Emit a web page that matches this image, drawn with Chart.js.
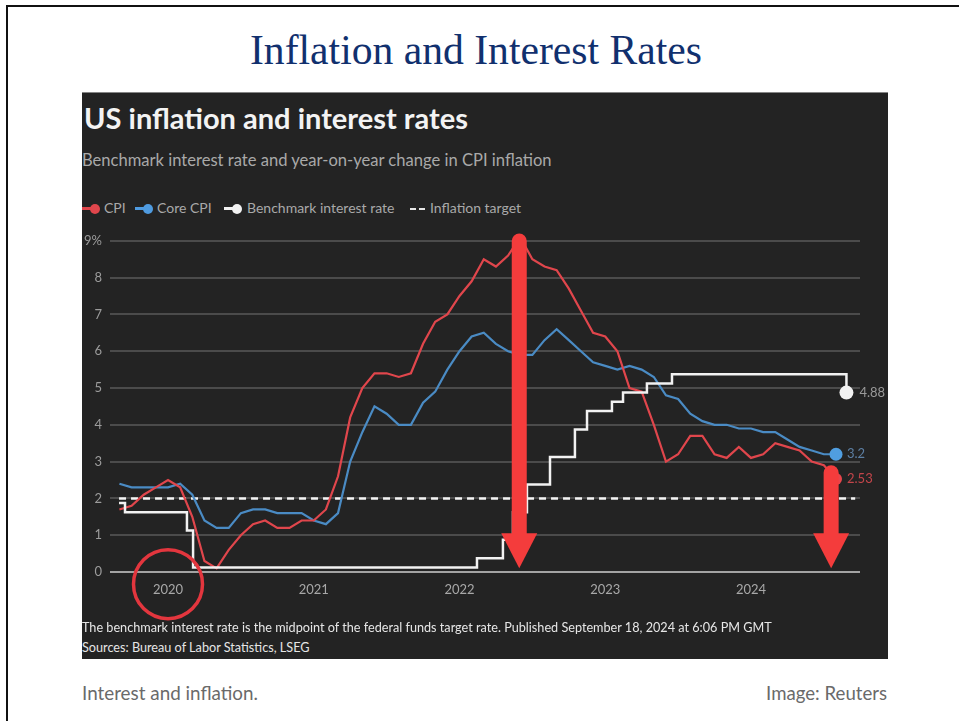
<!DOCTYPE html>
<html>
<head>
<meta charset="utf-8">
<script src="https://cdn.jsdelivr.net/npm/chart.js@4.4.1/dist/chart.umd.min.js"></script>
<style>
  html,body{margin:0;padding:0;}
  body{width:959px;height:721px;overflow:hidden;background:#fff;position:relative;font-family:Lato,"Noto Sans",sans-serif;}
  .t{position:absolute;white-space:nowrap;line-height:1;}
  .leg{position:absolute;white-space:nowrap;line-height:1;font-size:14px;color:#a9a9a9;}
</style>
</head>
<body>
<div style="position:absolute;left:6px;top:5px;width:1000px;height:1000px;border:2px solid #111;"></div>
<div style="position:absolute;left:82px;top:92px;width:806px;height:567px;background:#232323;border-top:1px solid #858585;box-sizing:border-box;"></div>
<canvas id="c" width="806" height="400" style="position:absolute;left:82px;top:225px;"></canvas>

<div id="slideTitle" class="t" style="font-family:'Liberation Serif',serif;font-size:40px;color:#11306e;">Inflation and Interest Rates</div>
<div id="chTitle" class="t" style="font-weight:700;font-size:25px;color:#f3f3f3;">US inflation and interest rates</div>
<div id="chSub" class="t" style="font-size:16px;color:#a9a9a9;">Benchmark interest rate and year-on-year change in CPI inflation</div>

<div id="lg1" class="leg">CPI</div>
<div id="lg2" class="leg">Core CPI</div>
<div id="lg3" class="leg">Benchmark interest rate</div>
<div id="lg4" class="leg">Inflation target</div>
<div id="icons"></div>

<div id="foot1" class="t" style="font-size:12.5px;color:#e6e6e6;">The benchmark interest rate is the midpoint of the federal funds target rate. Published September 18, 2024 at 6:06 PM GMT</div>
<div id="foot2" class="t" style="font-size:12.5px;color:#e6e6e6;">Sources: Bureau of Labor Statistics, LSEG</div>
<div id="capL" class="t" style="font-size:16px;color:#6a6a6a;">Interest and inflation.</div>
<div id="capR" class="t" style="font-size:16px;color:#6a6a6a;">Image: Reuters</div>

<script>
// ---------------- DATA ----------------
const months = [
  "2019-09","2019-10","2019-11","2019-12",
  "2020-01","2020-02","2020-03","2020-04","2020-05","2020-06","2020-07","2020-08","2020-09","2020-10","2020-11","2020-12",
  "2021-01","2021-02","2021-03","2021-04","2021-05","2021-06","2021-07","2021-08","2021-09","2021-10","2021-11","2021-12",
  "2022-01","2022-02","2022-03","2022-04","2022-05","2022-06","2022-07","2022-08","2022-09","2022-10","2022-11","2022-12",
  "2023-01","2023-02","2023-03","2023-04","2023-05","2023-06","2023-07","2023-08","2023-09","2023-10","2023-11","2023-12",
  "2024-01","2024-02","2024-03","2024-04","2024-05","2024-06","2024-07","2024-08"
];
const cpi = [
  1.7,1.8,2.1,2.3,
  2.5,2.3,1.5,0.3,0.1,0.6,1.0,1.3,1.4,1.2,1.2,1.4,
  1.4,1.7,2.6,4.2,5.0,5.4,5.4,5.3,5.4,6.2,6.8,7.0,
  7.5,7.9,8.5,8.3,8.6,9.1,8.5,8.3,8.2,7.7,7.1,6.5,
  6.4,6.0,5.0,4.9,4.0,3.0,3.2,3.7,3.7,3.2,3.1,3.4,
  3.1,3.2,3.5,3.4,3.3,3.0,2.9,2.53
];
const coreCpi = [
  2.4,2.3,2.3,2.3,
  2.3,2.4,2.1,1.4,1.2,1.2,1.6,1.7,1.7,1.6,1.6,1.6,
  1.4,1.3,1.6,3.0,3.8,4.5,4.3,4.0,4.0,4.6,4.9,5.5,
  6.0,6.4,6.5,6.2,6.0,5.9,5.9,6.3,6.6,6.3,6.0,5.7,
  5.6,5.5,5.6,5.5,5.3,4.8,4.7,4.3,4.1,4.0,4.0,3.9,
  3.9,3.8,3.8,3.6,3.4,3.3,3.2,3.2
];
// benchmark rate (midpoint of fed funds target) — change dates as fractional years
const fedDates = [2019.664,2019.705,2020.130,2020.172,2022.120,2022.298,2022.367,2022.463,2022.621,2022.792,2022.875,2023.046,2023.122,2023.286,2023.458,2024.655];
const fedRates = [1.875,1.625,1.125,0.125,0.375,0.875,1.625,2.375,3.125,3.875,4.375,4.625,4.875,5.125,5.375,4.875];
const targetSpan = [2019.664, 2024.715];
const targetRate = 2;
const yearTicks = [2020,2021,2022,2023,2024];
const yTicks = [0,1,2,3,4,5,6,7,8,9];
const endLabels = {cpi:"2.53", core:"3.2", fed:"4.88"};
// annotations (data space)
const arrowX = [2022.41, 2024.55];
const arrowTop = [9.2, 2.9];
const arrowTip = [0.1, 0.1];
const circleCenter = {x:2020.0, y:-0.33};

// ---------------- HELPERS ----------------
const monthX = m => { const [y, mo] = m.split('-').map(Number); return y + (mo - 1) / 12; };
const toPts = vals => vals.map((v, i) => ({x: monthX(months[i]), y: v}));
const lastOnly = (r) => (ctx) => ctx.dataIndex === ctx.dataset.data.length - 1 ? r : 0;

const annot = {
  id: 'annot',
  afterDatasetsDraw(chart) {
    const {ctx, scales: {x, y}} = chart;
    ctx.save();
    // end labels
    ctx.font = '13px Lato, "Noto Sans", sans-serif';
    ctx.textBaseline = 'middle';
    ctx.textAlign = 'left';
    const lbl = (dsIdx, text, color, dx) => {
      const meta = chart.getDatasetMeta(dsIdx);
      const p = meta.data[meta.data.length - 1];
      ctx.fillStyle = color;
      ctx.fillText(text, p.x + dx, p.y);
    };
    lbl(3, endLabels.fed, '#9a9a9a', 13);
    lbl(1, endLabels.core, '#5d7fa3', 11);
    lbl(2, endLabels.cpi, '#c2454a', 11);
    // red arrows
    ctx.fillStyle = '#f43c3c';
    arrowX.forEach((ax, i) => {
      const px = x.getPixelForValue(ax);
      const top = y.getPixelForValue(arrowTop[i]);
      const tip = y.getPixelForValue(arrowTip[i]);
      const shaft = 15, headW = 36, headH = 35;
      const headTop = tip - headH;
      ctx.beginPath();
      ctx.moveTo(px - shaft / 2, headTop + 1);
      ctx.lineTo(px - shaft / 2, top + shaft / 2);
      ctx.arc(px, top + shaft / 2, shaft / 2, Math.PI, 0);
      ctx.lineTo(px + shaft / 2, headTop + 1);
      ctx.closePath();
      ctx.fill();
      ctx.beginPath();
      ctx.moveTo(px - headW / 2, headTop);
      ctx.lineTo(px + headW / 2, headTop);
      ctx.lineTo(px, tip);
      ctx.closePath();
      ctx.fill();
    });
    // red circle
    ctx.strokeStyle = '#e3363e';
    ctx.lineWidth = 3.5;
    ctx.beginPath();
    ctx.arc(x.getPixelForValue(circleCenter.x), y.getPixelForValue(circleCenter.y), 34.5, 0, Math.PI * 2);
    ctx.stroke();
    ctx.restore();
  }
};

const fedPts = fedDates.map((d, i) => ({x: d, y: fedRates[i]}));
const targetPts = targetSpan.map(d => ({x: d, y: targetRate}));

new Chart(document.getElementById('c'), {
  type: 'line',
  data: {
    datasets: [
      {label: 'Inflation target', data: targetPts, borderColor: '#f4f4f4', borderWidth: 2.5, borderDash: [7, 5], pointRadius: 0, order: 4},
      {label: 'Core CPI', data: toPts(coreCpi), borderColor: '#4a8bc4', borderWidth: 2.2, pointRadius: lastOnly(6.5), pointBackgroundColor: '#509ee0', pointBorderWidth: 0, order: 3, tension: 0},
      {label: 'CPI', data: toPts(cpi), borderColor: '#e0464c', borderWidth: 2.2, pointRadius: lastOnly(6), pointBackgroundColor: '#e8454b', pointBorderWidth: 0, order: 2, clip: 12},
      {label: 'Benchmark interest rate', data: fedPts, stepped: 'before', borderColor: '#f2f2f2', borderWidth: 2.5, pointRadius: lastOnly(7), pointBackgroundColor: '#f2f2f2', pointBorderWidth: 0, order: 1}
    ]
  },
  options: {
    responsive: false,
    animation: false,
    events: [],
    layout: {padding: {left: 0, right: 28, top: 15, bottom: 0}},
    scales: {
      x: {
        type: 'linear', min: 2019.602, max: 2024.748,
        grid: {display: false, drawTicks: false}, border: {display: false},
        ticks: {color: '#a8a8a8', font: {family: 'Lato', size: 13}, padding: 10, maxRotation: 0, callback: v => String(v)},
        afterBuildTicks: s => { s.ticks = yearTicks.map(v => ({value: v})); },
        afterFit: s => { s.height = 53; }
      },
      y: {
        min: 0, max: 9,
        afterBuildTicks: s => { s.ticks = yTicks.map(v => ({value: v})); },
        ticks: {color: '#9c9c9c', font: {family: 'Lato', size: 13}, padding: 8, callback: v => v === 9 ? '9%' : String(v)},
        grid: {drawTicks: false, color: c => c.tick && c.tick.value === 0 ? '#a3a3a3' : '#4b4b4b', lineWidth: 2},
        border: {display: false},
        afterFit: s => { s.width = 28; }
      }
    },
    plugins: {legend: {display: false}, tooltip: {enabled: false}}
  },
  plugins: [annot]
});

// ---------------- TEXT LAYOUT ----------------
function place(id, x, baseline, width, align) {
  const el = document.getElementById(id);
  if (width) {
    const w = el.getBoundingClientRect().width;
    const fs = parseFloat(getComputedStyle(el).fontSize);
    el.style.fontSize = (fs * width / w) + 'px';
  }
  const m = document.createElement('span');
  m.style.cssText = 'display:inline-block;width:0;height:0;vertical-align:baseline';
  el.appendChild(m);
  const off = m.getBoundingClientRect().top - el.getBoundingClientRect().top;
  el.style.top = (baseline - off) + 'px';
  const w2 = el.getBoundingClientRect().width;
  el.style.left = (align === 'right' ? x - w2 : x) + 'px';
}
place('slideTitle', 250, 64, 452);
place('chTitle', 84, 129, 384);
place('chSub', 82, 166, 470);
place('lg1', 104, 213);
place('lg2', 157, 213);
place('lg3', 247, 213);
place('lg4', 430, 213);
place('foot1', 82, 632, 690);
document.getElementById('foot2').style.fontSize = document.getElementById('foot1').style.fontSize;
place('foot2', 82, 652);
place('capL', 82, 700, 176);
place('capR', 887, 700, 121, 'right');

// legend icons
const icons = document.getElementById('icons');
function icon(x, color) {
  const l = document.createElement('div');
  l.style.cssText = `position:absolute;left:${x}px;top:207px;width:11px;height:3px;background:${color};`;
  const d = document.createElement('div');
  d.style.cssText = `position:absolute;left:${x + 8}px;top:203.5px;width:10px;height:10px;border-radius:50%;background:${color};`;
  icons.appendChild(l); icons.appendChild(d);
}
icon(82, '#e0464c');
icon(135, '#4f9be0');
icon(224, '#f2f2f2');
[410, 419].forEach(x => {
  const d = document.createElement('div');
  d.style.cssText = `position:absolute;left:${x}px;top:207.5px;width:6px;height:2px;background:#e6e6e6;`;
  icons.appendChild(d);
});
</script>
</body>
</html>
